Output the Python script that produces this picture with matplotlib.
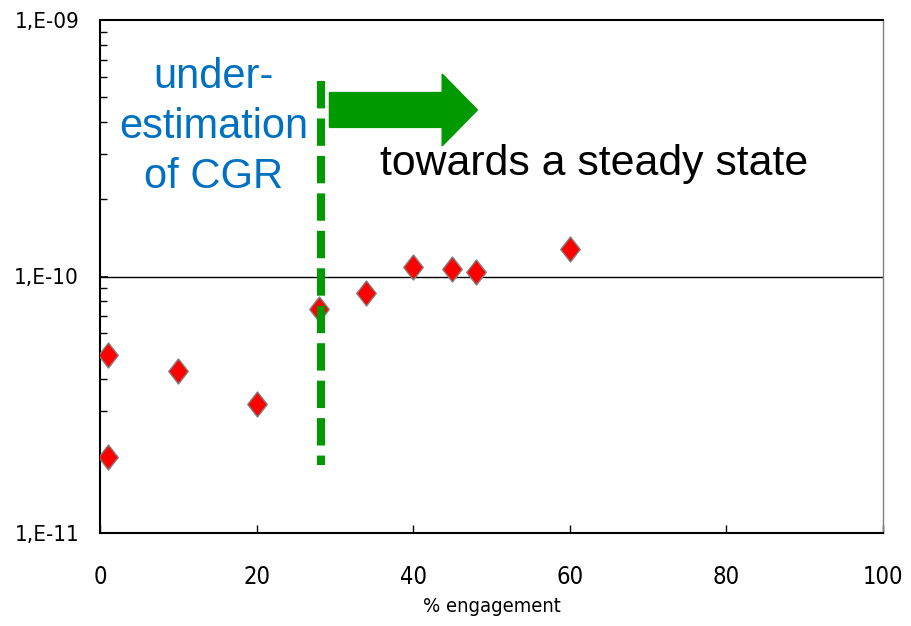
import matplotlib
matplotlib.use('Agg')
import matplotlib.pyplot as plt
from matplotlib.patches import FancyArrow
from matplotlib.path import Path
from matplotlib.ticker import LogLocator, FixedFormatter, FixedLocator, NullFormatter

# data
engagement = [1, 1, 10, 20, 28, 34, 40, 45, 48, 60]
cgr = [4.95e-11, 1.98e-11, 4.28e-11, 3.18e-11, 7.5e-11, 8.6e-11,
       1.09e-10, 1.07e-10, 1.04e-10, 1.28e-10]
y_ticks = [1e-11, 1e-10, 1e-9]
y_tick_labels = ['1,E-11', '1,E-10', '1,E-09']
x_ticks = [0, 20, 40, 60, 80, 100]
split_x = 28.2
split_y = [5.8e-10, 1.84e-11]

arial = ['Liberation Sans', 'DejaVu Sans']

fig = plt.figure(figsize=(9.12, 6.26), dpi=100)
ax = fig.add_axes([100 / 912, 1 - 533 / 626, 783 / 912, 513 / 626])

ax.set_yscale('log')
ax.set_xlim(0, 100)
ax.set_ylim(1e-11, 1e-9)

# only the 1e-10 gridline
ax.axhline(1e-10, color='black', lw=1.0, zorder=1)

diamond = Path([(0, 1), (0.78, 0), (0, -1), (-0.78, 0), (0, 1)],
               [Path.MOVETO, Path.LINETO, Path.LINETO, Path.LINETO, Path.CLOSEPOLY])
ax.plot(engagement, cgr, linestyle='none', marker=diamond, markersize=18,
        markerfacecolor='#ff0000', markeredgecolor='#7f7f7f', markeredgewidth=1.0,
        zorder=3)

ax.plot([split_x, split_x], split_y, color='#009900', lw=5.8,
        linestyle=(0, (3.4, 1.25)), solid_capstyle='butt', dash_capstyle='butt',
        zorder=4)

arrow = FancyArrow(0.293, 0.8246, 0.189, 0, width=0.068, head_width=0.140,
                   head_length=0.045, length_includes_head=True,
                   color='#009900', transform=ax.transAxes, zorder=5)
ax.add_patch(arrow)

# multi-line baseline alignment uses the last line ("of CGR")
ax.text(14.5, 2.21e-10, 'under-\nestimation\nof CGR', color='#0070c0',
        fontsize=30, family=arial, ha='center', va='baseline',
        multialignment='center', linespacing=1.33, zorder=6)
ax.text(35.8, 2.49e-10, 'towards a steady state', color='black',
        fontsize=30.8, family=arial, ha='left', va='baseline', zorder=6)

ax.yaxis.set_major_locator(FixedLocator(y_ticks))
ax.yaxis.set_major_formatter(FixedFormatter(y_tick_labels))
ax.yaxis.set_minor_locator(LogLocator(base=10, subs=range(2, 10)))
ax.yaxis.set_minor_formatter(NullFormatter())
ax.set_xticks(x_ticks)

ax.tick_params(axis='y', which='major', direction='in', length=6, width=1.2,
               pad=15, labelsize=16, color='black')
ax.tick_params(axis='y', which='minor', direction='in', length=5, width=1.0,
               color='black')
ax.tick_params(axis='x', direction='in', length=6, width=1.0, pad=23,
               labelsize=17)
for lbl in ax.get_xticklabels() + ax.get_yticklabels():
    lbl.set_family('DejaVu Sans')
    lbl.set_stretch('condensed')

ax.set_xlabel('% engagement', fontsize=14.5, family='DejaVu Sans',
              fontstretch='condensed', labelpad=6)

for side in ['left', 'bottom', 'top']:
    ax.spines[side].set_color('black')
    ax.spines[side].set_linewidth(1.5)
ax.spines['right'].set_color('#808080')
ax.spines['right'].set_linewidth(1.0)

fig.savefig('out.png', dpi=100)
